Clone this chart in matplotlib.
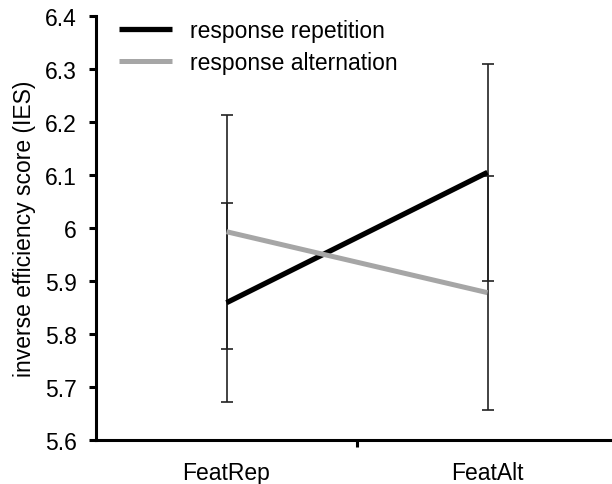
import numpy as np
import matplotlib.pyplot as plt
from matplotlib.ticker import FuncFormatter

plt.rcParams['font.family'] = ['Liberation Sans', 'DejaVu Sans']

conditions = ['FeatRep', 'FeatAlt']
rep_mean = [5.859, 6.105]
rep_err = [0.188, 0.205]
alt_mean = [5.993, 5.878]
alt_err = [0.221, 0.221]
yticks = [5.6, 5.7, 5.8, 5.9, 6.0, 6.1, 6.2, 6.3, 6.4]

x = np.arange(len(conditions))
fs = 16.5

fig = plt.figure(figsize=(6.12, 4.85), dpi=100)
ax = fig.add_axes([96/612, 44/485, 522/612, 424/485])

# error bars first, lines on top
ax.errorbar(x, rep_mean, yerr=rep_err, fmt='none', ecolor='#222222',
            elinewidth=1.2, capsize=4.3, capthick=1.2, zorder=2)
ax.errorbar(x, alt_mean, yerr=alt_err, fmt='none', ecolor='#222222',
            elinewidth=1.2, capsize=4.3, capthick=1.2, zorder=2)
ax.plot(x, rep_mean, color='black', linewidth=3.8, label='response repetition',
        solid_capstyle='butt', zorder=3)
ax.plot(x, alt_mean, color='#a6a6a6', linewidth=3.6, label='response alternation',
        solid_capstyle='butt', zorder=3)

ax.set_xlim(-0.5, 1.5)
ax.set_ylim(5.6, 6.4)
ax.set_yticks(yticks)
ax.yaxis.set_major_formatter(FuncFormatter(lambda v, p: '%g' % round(v, 1)))
ax.set_xticks([0.5])
ax.set_xticklabels([''])
ax.set_xticks(x, minor=True)
ax.set_xticklabels(conditions, minor=True)
ax.tick_params(axis='x', which='minor', length=0, pad=15, labelsize=fs)
ax.tick_params(axis='x', which='major', length=5, width=2.2, direction='out')
ax.tick_params(axis='y', length=5, width=2.2, direction='out', labelsize=fs, pad=9)

for s in ['top', 'right']:
    ax.spines[s].set_visible(False)
for s in ['left', 'bottom']:
    ax.spines[s].set_linewidth(2.2)

ax.set_ylabel('inverse efficiency score (IES)', fontsize=fs, labelpad=6)

ax.legend(loc='upper left', bbox_to_anchor=(119/612, 1 - 20/485),
          bbox_transform=fig.transFigure, frameon=False, fontsize=fs,
          handlelength=2.3, handletextpad=0.82, labelspacing=0.4,
          borderpad=0, borderaxespad=0)

fig.savefig('out.png', dpi=100)
